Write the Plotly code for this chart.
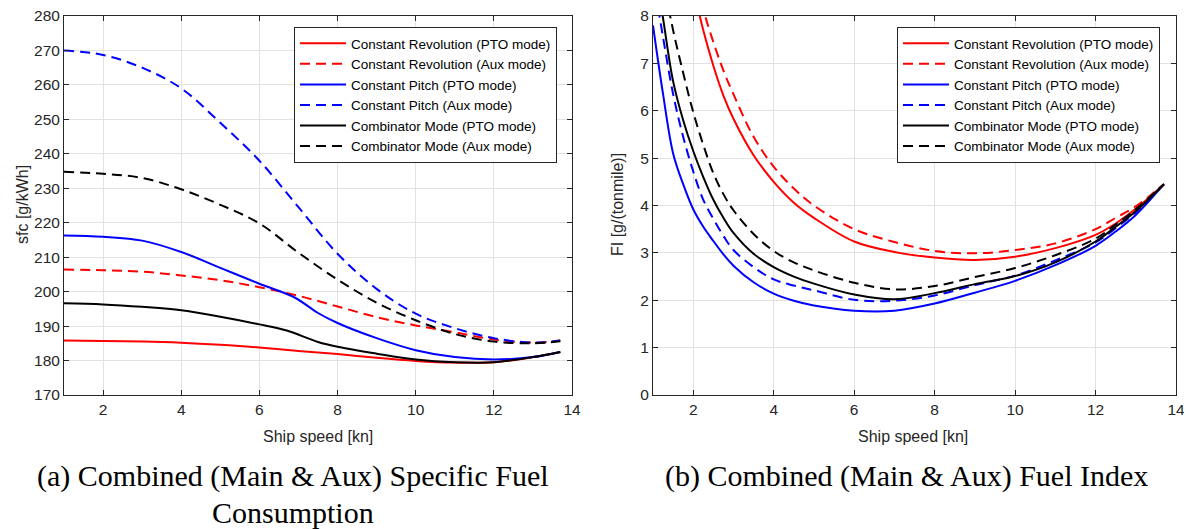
import plotly.graph_objects as go

# ---------------- data ----------------
speed_sfc = [1, 2, 3, 4, 5, 6, 7, 8, 9, 10, 11, 12, 13, 13.7]
speed_sfc_cp_pto = [1, 2, 3, 4, 5, 6, 6.9, 7.5, 8, 9, 10, 11, 12, 13, 13.7]
speed_sfc_cm_pto = [1, 2, 3, 4, 5, 6, 6.7, 7.5, 8, 9, 10, 11, 12, 13, 13.7]

sfc_cr_pto = [185.8, 185.7, 185.55, 185.2, 184.6, 183.8, 182.8, 181.9, 180.8, 179.9, 179.4, 179.5, 181.0, 182.5]
sfc_cr_aux = [206.4, 206.2, 205.8, 204.7, 203.3, 201.3, 198.8, 195.7, 192.6, 190.2, 188.2, 186.1, 185.2, 185.8]
sfc_cp_aux = [270.0, 268.7, 265.0, 259.0, 249.0, 238.0, 224.5, 211.0, 200.8, 193.6, 189.4, 186.5, 185.2, 185.8]
sfc_cm_aux = [234.8, 234.2, 233.0, 229.7, 225.2, 219.8, 211.3, 203.5, 196.8, 191.7, 187.7, 185.5, 185.0, 185.6]
sfc_cp_pto = [216.3, 215.9, 214.8, 211.5, 206.9, 202.3, 198.3, 193.8, 190.9, 186.5, 183.0, 181.0, 180.3, 181.0, 182.5]
sfc_cm_pto = [196.6, 196.3, 195.6, 194.6, 192.7, 190.5, 188.7, 185.4, 184.0, 182.0, 180.3, 179.5, 179.5, 181.0, 182.5]

speed_fi = [1, 1.25, 1.5, 1.75, 2, 2.25, 2.5, 2.75, 3, 3.5, 4, 4.5, 5, 6, 7, 8, 9, 10, 11, 12, 12.5, 13, 13.7]
fi_cr_pto = [14.0, 12.3, 10.8, 9.6, 8.6, 7.7, 6.95, 6.32, 5.83, 5.06, 4.5, 4.06, 3.74, 3.24, 3.02, 2.90, 2.85, 2.92, 3.10, 3.38, 3.62, 3.93, 4.45]
fi_cr_aux = [16.0, 14.0, 12.2, 10.6, 9.2, 8.15, 7.45, 6.85, 6.35, 5.45, 4.82, 4.36, 4.0, 3.5, 3.23, 3.04, 2.99, 3.06, 3.20, 3.50, 3.74, 3.98, 4.45]
fi_cp_pto = [7.8, 6.35, 5.1, 4.45, 3.92, 3.55, 3.25, 2.97, 2.73, 2.38, 2.14, 1.99, 1.89, 1.78, 1.78, 1.93, 2.16, 2.41, 2.74, 3.15, 3.45, 3.80, 4.45]
fi_cp_aux = [8.85, 7.55, 6.35, 5.45, 4.72, 4.12, 3.72, 3.36, 3.06, 2.70, 2.44, 2.31, 2.21, 2.01, 1.99, 2.10, 2.32, 2.52, 2.84, 3.22, 3.52, 3.86, 4.45]
fi_cm_pto = [9.3, 7.95, 6.62, 5.8, 5.15, 4.6, 4.12, 3.74, 3.42, 2.98, 2.70, 2.50, 2.35, 2.12, 2.02, 2.15, 2.34, 2.51, 2.80, 3.24, 3.55, 3.88, 4.45]
fi_cm_aux = [10.5, 8.8, 7.7, 6.8, 5.97, 5.28, 4.68, 4.24, 3.90, 3.40, 3.04, 2.80, 2.63, 2.37, 2.23, 2.30, 2.49, 2.68, 2.95, 3.30, 3.60, 3.92, 4.45]

names = ["Constant Revolution (PTO mode)", "Constant Revolution (Aux mode)",
         "Constant Pitch (PTO mode)", "Constant Pitch (Aux mode)",
         "Combinator Mode (PTO mode)", "Combinator Mode (Aux mode)"]
colors = ["#ff0000", "#ff0000", "#0000ff", "#0000ff", "#000000", "#000000"]
dashes = ["solid", "10px,6px", "solid", "10px,6px", "solid", "10px,6px"]

sfc_x = [speed_sfc, speed_sfc, speed_sfc_cp_pto, speed_sfc, speed_sfc_cm_pto, speed_sfc]
sfc_series = [sfc_cr_pto, sfc_cr_aux, sfc_cp_pto, sfc_cp_aux, sfc_cm_pto, sfc_cm_aux]
fi_series = [fi_cr_pto, fi_cr_aux, fi_cp_pto, fi_cp_aux, fi_cm_pto, fi_cm_aux]

x_ticks = [2, 4, 6, 8, 10, 12, 14]
sfc_ticks = list(range(170, 281, 10))
fi_ticks = list(range(0, 9))

# ---------------- figure ----------------
# page body has an 8px margin: figure pixel = screen pixel - 8
OFF = 8
W, H = 1192 - OFF, 529 - OFF


def px(v):
    return (v - OFF) / W


def py(v):
    return 1 - (v - OFF) / H


fig = go.Figure()

for nm, c, d, xs, ys in zip(names, colors, dashes, sfc_x, sfc_series):
    fig.add_trace(go.Scatter(x=xs, y=ys, name=nm, mode="lines",
                             line=dict(color=c, width=2, dash=d, shape="spline", smoothing=1.0),
                             xaxis="x", yaxis="y", legend="legend"))
for nm, c, d, ys in zip(names, colors, dashes, fi_series):
    fig.add_trace(go.Scatter(x=speed_fi, y=ys, name=nm, mode="lines",
                             line=dict(color=c, width=2, dash=d, shape="spline", smoothing=1.0),
                             xaxis="x2", yaxis="y2", legend="legend2"))

tickfont = dict(family="Liberation Sans, Arial, sans-serif", size=15.5, color="#262626")
ax = dict(showline=True, linecolor="#262626", linewidth=1, mirror="allticks",
          ticks="inside", ticklen=5, tickcolor="#262626", showgrid=True,
          gridcolor="#e2e2e2", gridwidth=1, zeroline=False, tickfont=tickfont,
          automargin=False, ticklabeloverflow="allow")

ydom = [py(395), py(16)]

legfont = dict(family="Liberation Sans, Arial, sans-serif", size=13.5, color="#000000")
leg = dict(xanchor="right", yanchor="top", bgcolor="white", bordercolor="#262626",
           borderwidth=1, font=legfont, tracegroupgap=0, itemwidth=46)

fig.update_layout(
    template="none",
    width=W, height=H,
    margin=dict(l=0, r=0, t=0, b=0, autoexpand=False),
    paper_bgcolor="white", plot_bgcolor="white",
    xaxis=dict(domain=[px(64), px(572)], range=[1, 14], tickvals=x_ticks, anchor="y", **ax),
    yaxis=dict(domain=ydom, range=[170, 280], tickvals=sfc_ticks, anchor="x", **ax),
    xaxis2=dict(domain=[px(653), px(1176)], range=[1, 14], tickvals=x_ticks, anchor="y2", **ax),
    yaxis2=dict(domain=ydom, range=[0, 8], tickvals=fi_ticks, anchor="x2", **ax),
    legend=dict(x=px(557), y=py(27), **leg),
    legend2=dict(x=px(1160), y=py(27), **leg),
    showlegend=True,
)

labfont = dict(family="Liberation Sans, Arial, sans-serif", size=16, color="#262626")
capfont = dict(family="Liberation Serif, Times New Roman, serif", size=30, color="#000000")
ann = [
    dict(text="Ship speed [kn]", x=px(318), y=py(436), font=labfont),
    dict(text="Ship speed [kn]", x=px(913), y=py(436), font=labfont),
    dict(text="sfc [g/kWh]", x=px(22), y=py(205), font=labfont, textangle=-90),
    dict(text="FI [g/(tonmile)]", x=px(617), y=py(205), font=labfont, textangle=-90),
    dict(text="(a) Combined (Main &amp; Aux) Specific Fuel", x=px(293), y=py(476), font=capfont),
    dict(text="Consumption", x=px(293), y=py(512), font=capfont),
    dict(text="(b) Combined (Main &amp; Aux) Fuel Index", x=px(906), y=py(476), font=capfont),
]
for a in ann:
    fig.add_annotation(xref="paper", yref="paper", showarrow=False,
                       xanchor="center", yanchor="middle", **a)

fig.write_html("out.html")
